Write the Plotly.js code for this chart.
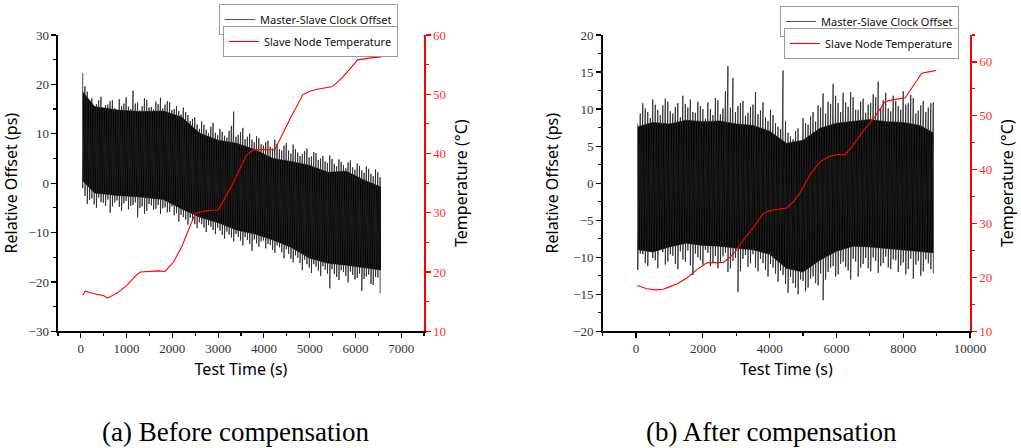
<!DOCTYPE html>
<html>
<head>
<meta charset="utf-8">
<script src="https://cdn.plot.ly/plotly-3.0.1.min.js"></script>
<style>
html,body{margin:0;padding:0;background:#fff;}
#chart{width:1021px;height:448px;}
</style>
</head>
<body>
<div id="chart"></div>
<script>
// ---------- (a) Before compensation ----------
// extreme samples of the offset noise
const aSpikeT = [40,140,240,340,440,540,640,740,840,940,1040,1140,1240,1340,1440,1540,1640,1740,1840,1940,2040,2140,2240,2340,2440,2540,2640,2740,2840,2940,3040,3140,3240,3340,3440,3540,3640,3740,3840,3940,4040,4140,4240,4340,4440,4540,4640,4740,4840,4940,5040,5140,5240,5340,5440,5540,5640,5740,5840,5940,6040,6140,6240,6340,6440,6540];
const aSpikeHi = [22.3,18.5,17.2,16.0,17.5,15.8,16.6,15.2,17.0,16.1,15.5,18.7,16.3,15.6,16.9,15.4,16.5,17.3,15.9,16.4,15.0,14.6,15.3,13.8,13.0,11.9,12.5,10.8,11.4,10.2,11.0,9.6,10.6,14.5,9.8,11.2,9.4,8.8,9.5,7.9,8.3,7.4,8.8,6.9,7.6,6.6,7.8,6.2,5.9,7.0,5.4,6.1,5.0,4.4,5.6,3.9,4.8,3.6,4.2,3.2,4.0,2.6,3.4,1.9,2.8,1.2];
const aSpikeLo = [-1.0,-4.2,-3.1,-5.0,-3.8,-4.6,-6.0,-3.9,-4.8,-4.1,-5.3,-4.4,-6.9,-4.7,-5.6,-4.5,-5.2,-6.2,-4.9,-5.8,-6.5,-7.8,-6.9,-8.4,-7.6,-9.1,-8.3,-9.9,-8.8,-10.3,-9.6,-11.2,-10.4,-11.8,-10.9,-12.6,-11.5,-13.7,-12.2,-11.8,-13.2,-12.5,-14.1,-13.0,-15.2,-14.3,-16.0,-15.1,-17.6,-16.4,-18.2,-16.9,-18.8,-17.5,-21.3,-18.4,-19.6,-18.0,-20.1,-18.6,-19.2,-21.8,-18.9,-20.4,-19.0,-22.3];
const aSpikeT2 = [90,190,290,390,490,590,690,790,890,990,1090,1190,1290,1390,1490,1590,1690,1790,1890,1990,2090,2190,2290,2390,2490,2590,2690,2790,2890,2990,3090,3190,3290,3390,3490,3590,3690,3790,3890,3990,4090,4190,4290,4390,4490,4590,4690,4790,4890,4990,5090,5190,5290,5390,5490,5590,5690,5790,5890,5990,6090,6190,6290,6390,6490];
const aSpikeHi2 = [19.6,16.2,15.1,16.8,14.9,15.9,16.8,14.8,15.6,17.4,15.0,16.1,14.7,17.2,15.3,14.9,16.0,15.1,16.6,14.8,15.6,13.9,14.4,12.6,13.3,11.0,11.8,10.1,12.2,9.7,10.4,9.2,11.6,9.4,10.3,8.9,10.0,8.3,9.1,7.6,8.6,7.0,7.9,6.6,8.1,6.0,6.9,5.5,6.5,5.2,6.3,4.7,5.5,4.1,4.9,3.4,4.3,3.0,4.6,2.7,3.5,2.1,2.9,1.4,2.2];
const aSpikeLo2 = [-2.6,-3.4,-4.3,-2.9,-4.0,-3.3,-4.7,-3.5,-5.6,-3.6,-4.6,-3.9,-5.0,-6.2,-4.2,-5.4,-4.4,-5.1,-5.9,-4.7,-6.1,-6.4,-7.4,-7.0,-8.3,-7.9,-9.0,-8.5,-9.5,-9.0,-10.5,-9.8,-11.0,-10.3,-11.6,-10.9,-12.3,-11.4,-12.9,-11.6,-12.3,-13.5,-12.6,-14.0,-13.4,-15.3,-14.6,-16.2,-15.5,-17.1,-16.4,-17.7,-16.8,-18.3,-17.4,-19.0,-17.6,-18.8,-17.9,-19.5,-18.3,-19.4,-18.5,-20.6,-19.1];
// dense core of the noise band
const aCoreT  = [40,300,800,1300,1800,2200,2600,3000,3400,3800,4200,4600,5000,5400,5800,6200,6560];
const aCoreHi = [18.5,15.5,14.8,14.5,14.6,13.4,10.1,8.7,8.1,6.8,5.0,4.4,3.6,2.2,2.4,0.6,-0.8];
const aCoreLo = [0.5,-2.0,-2.5,-2.8,-3.3,-5.2,-6.9,-8.0,-9.5,-10.3,-11.5,-13.0,-15.2,-16.2,-16.6,-17.2,-17.6];
// temperature
const aTempT = [40,100,200,350,500,580,800,1010,1200,1300,1500,1700,1840,2025,2200,2400,2500,2700,3000,3100,3300,3500,3620,3760,4000,4236,4400,4600,4853,5000,5143,5400,5500,5724,6050,6300,6560];
const aTemp  = [16.1,16.8,16.5,16.3,16.0,15.6,16.5,17.8,19.4,20.0,20.1,20.2,20.1,21.7,24.2,27.8,29.9,30.3,30.5,31.8,34.6,37.8,39.7,40.6,40.7,40.6,43.2,46.3,49.9,50.5,50.8,51.1,51.3,52.9,55.8,56.1,56.3];

// ---------- (b) After compensation ----------
const bSpikeT = [50,200,350,500,650,800,950,1100,1250,1400,1550,1700,1850,2000,2150,2300,2450,2600,2750,2900,3050,3200,3350,3500,3650,3800,3950,4100,4250,4400,4550,4700,4850,5000,5150,5300,5450,5600,5750,5900,6050,6200,6350,6500,6650,6800,6950,7100,7250,7400,7550,7700,7850,8000,8150,8300,8450,8600,8750,8900];
const bSpikeHi = [8.0,10.8,9.6,11.3,9.9,10.5,11.0,9.4,10.8,11.8,10.2,9.6,11.0,10.0,10.9,9.2,11.2,10.1,15.8,14.2,10.4,11.1,9.5,10.6,9.3,10.9,8.4,9.2,7.6,15.2,6.8,5.9,7.4,8.8,7.9,9.6,10.5,12.1,11.0,13.4,10.8,12.2,10.3,11.6,9.9,11.4,10.6,12.0,13.7,11.2,10.1,11.8,10.4,12.4,10.8,11.5,9.8,11.1,10.2,10.9];
const bSpikeLo = [-11.7,-9.6,-11.2,-10.1,-11.5,-9.3,-10.6,-9.8,-11.6,-10.3,-9.1,-12.4,-10.0,-11.0,-9.4,-10.7,-11.5,-9.9,-12.0,-10.5,-14.7,-10.2,-11.3,-9.6,-11.9,-10.8,-12.6,-11.4,-13.3,-12.4,-14.8,-13.5,-15.0,-13.2,-14.1,-12.6,-13.8,-15.8,-12.0,-11.2,-12.3,-10.6,-11.8,-10.2,-12.6,-10.9,-11.5,-10.0,-12.1,-10.8,-11.4,-10.3,-12.0,-10.7,-11.6,-12.9,-10.5,-11.9,-10.8,-12.2];
const bSpikeT2 = [125,275,425,575,725,875,1025,1175,1325,1475,1625,1775,1925,2075,2225,2375,2525,2675,2825,2975,3125,3275,3425,3575,3725,3875,4025,4175,4325,4475,4625,4775,4925,5075,5225,5375,5525,5675,5825,5975,6125,6275,6425,6575,6725,6875,7025,7175,7325,7475,7625,7775,7925,8075,8225,8375,8525,8675,8825];
const bSpikeHi2 = [9.4,10.1,8.8,10.6,9.2,11.4,9.7,10.3,8.9,10.7,11.3,9.5,10.4,8.7,10.0,11.5,9.3,12.4,10.2,9.6,10.8,9.1,10.3,12.3,9.8,8.9,9.9,8.1,7.3,8.4,6.3,7.0,5.6,8.1,9.0,8.3,10.2,9.4,10.7,11.8,9.6,10.9,12.3,9.9,11.0,9.5,10.8,11.6,10.1,12.2,9.7,11.1,9.9,10.6,11.9,9.4,10.5,9.6,10.8];
const bSpikeLo2 = [-9.5,-10.8,-9.0,-10.4,-8.9,-11.0,-9.6,-10.9,-9.2,-10.6,-11.1,-9.5,-10.4,-9.0,-11.2,-9.8,-10.6,-9.4,-11.5,-10.1,-11.9,-9.7,-10.8,-11.4,-10.2,-11.7,-10.9,-12.2,-11.8,-13.6,-12.7,-14.1,-13.0,-14.6,-12.9,-13.5,-12.2,-13.0,-11.4,-12.6,-10.9,-11.3,-13.0,-10.6,-11.4,-10.1,-11.9,-10.5,-11.2,-9.9,-11.6,-10.4,-11.1,-12.3,-10.2,-11.0,-12.5,-10.3,-11.6];
const bCoreT  = [50,500,1000,1500,2000,2500,3000,3500,4000,4500,5000,5500,6000,6500,7000,7500,8000,8500,8900];
const bCoreHi = [7.6,8.2,8.0,8.5,8.3,8.4,8.0,7.8,7.0,5.4,5.8,7.4,8.1,8.4,8.6,8.3,8.2,7.8,6.8];
const bCoreLo = [-9.0,-9.3,-8.6,-8.1,-8.4,-8.5,-8.8,-9.0,-9.6,-11.5,-12.0,-10.4,-9.2,-8.5,-8.6,-8.8,-9.0,-9.2,-9.4];
const bTempT = [40,150,320,600,810,1018,1220,1500,1816,2116,2300,2615,2800,3000,3214,3500,3812,4000,4200,4510,4700,4910,5210,5500,5760,6000,6260,6450,6757,7000,7156,7455,7700,8054,8200,8400,8553,8800,8980];
const bTemp  = [18.5,18.3,17.9,17.7,17.8,18.3,18.8,19.8,21.4,22.7,22.7,22.8,23.7,25.0,27.0,29.2,31.9,32.4,32.6,32.9,34.0,35.7,39.1,41.4,42.4,42.8,42.8,44.2,46.8,48.7,49.9,52.6,53.0,53.3,54.6,56.4,57.9,58.2,58.4];

const aTicks = ['0','1000','2000','3000','4000','5000','6000','7000'];
const bTicks = ['0','2000','4000','6000','8000','10000'];

// zigzag through the read extremes, both sample sets merged in time order
function zigzag(t1, lo1, hi1, t2, lo2, hi2){
  const pts = [];
  t1.forEach((t, i) => pts.push([t, hi1[i], lo1[i]]));
  t2.forEach((t, i) => pts.push([t, hi2[i], lo2[i]]));
  pts.sort((a, b) => a[0] - b[0]);
  const x = [], y = [];
  pts.forEach(p => { x.push(p[0], p[0]); y.push(p[1], p[2]); });
  return {x, y};
}

const sa = zigzag(aSpikeT, aSpikeLo, aSpikeHi, aSpikeT2, aSpikeLo2, aSpikeHi2);
const sb = zigzag(bSpikeT, bSpikeLo, bSpikeHi, bSpikeT2, bSpikeLo2, bSpikeHi2);

const OFF = 'Master-Slave Clock Offset';
const TMP = 'Slave Node Temperature';

const traces = [
  {x: aCoreT, y: aCoreLo, xaxis:'x', yaxis:'y', mode:'lines', line:{color:'#000', width:0.5}, showlegend:false, hoverinfo:'skip'},
  {x: aCoreT, y: aCoreHi, xaxis:'x', yaxis:'y', mode:'lines', line:{color:'#000', width:0.5}, fill:'tonexty', fillcolor:'#000', showlegend:false, hoverinfo:'skip'},
  {x: sa.x, y: sa.y, xaxis:'x', yaxis:'y', mode:'lines', name: OFF, legend:'legend',
   line:{color:'#222', width:0.8}, hoverinfo:'skip'},
  {x: aTempT, y: aTemp, xaxis:'x', yaxis:'y2', mode:'lines', name: TMP, legend:'legend2',
   line:{color:'#ff0000', width:1.1}},

  {x: bCoreT, y: bCoreLo, xaxis:'x2', yaxis:'y3', mode:'lines', line:{color:'#000', width:0.5}, showlegend:false, hoverinfo:'skip'},
  {x: bCoreT, y: bCoreHi, xaxis:'x2', yaxis:'y3', mode:'lines', line:{color:'#000', width:0.5}, fill:'tonexty', fillcolor:'#000', showlegend:false, hoverinfo:'skip'},
  {x: sb.x, y: sb.y, xaxis:'x2', yaxis:'y3', mode:'lines', name: OFF, legend:'legend3',
   line:{color:'#222', width:0.8}, hoverinfo:'skip'},
  {x: bTempT, y: bTemp, xaxis:'x2', yaxis:'y4', mode:'lines', name: TMP, legend:'legend4',
   line:{color:'#ff0000', width:1.1}}
];

const tickFont = {family:'"Liberation Serif", "Times New Roman", serif', size:13, color:'#333'};
const redTickFont = {family:'"Liberation Serif", "Times New Roman", serif', size:13, color:'#ff3030'};
const titleFont = {family:'"Noto Sans", "Open Sans", sans-serif', size:16, color:'#000'};
const legFont = {family:'"Noto Sans", "Open Sans", sans-serif', size:11, color:'#111'};

function xAx(domain, range, dtick, ticktext, anchor){
  return {domain, range, tickmode:'array', tickvals: ticktext.map(Number), ticktext, anchor,
    showgrid:false, zeroline:false,
    showline:true, linecolor:'#000', linewidth:1.5, ticks:'outside', ticklen:5, tickwidth:1.2, tickcolor:'#000',
    minor:{dtick: dtick/2, tick0:0, ticks:'outside', ticklen:3, tickcolor:'#000'},
    tickfont: tickFont, title:{text:'Test Time (s)', font:titleFont, standoff:8}};
}
function yLeft(domain, range, dtick, anchor){
  return {domain, range, dtick, anchor, showgrid:false, zeroline:false,
    showline:true, linecolor:'#000', linewidth:1.5, ticks:'outside', ticklen:5, tickwidth:1.2, tickcolor:'#000',
    minor:{dtick: dtick/2, ticks:'outside', ticklen:3, tickcolor:'#000'},
    tickfont: tickFont, title:{text:'Relative Offset (ps)', font:titleFont, standoff:10}};
}
function yRight(range, overlay, anchor){
  return {range, overlaying: overlay, anchor, side:'right', tick0:10, dtick:10, showgrid:false, zeroline:false,
    showline:true, linecolor:'#ff0000', linewidth:1.5, ticks:'outside', ticklen:5, tickwidth:1.2, tickcolor:'#ff0000',
    minor:{dtick:5, ticks:'outside', ticklen:3, tickcolor:'#ff0000'},
    tickfont: redTickFont, title:{text:'Temperature (°C)', font:titleFont, standoff:10}};
}

const yDom = [0.2604, 0.9219];
const legBase = {xanchor:'right', yanchor:'top', bgcolor:'#fff', bordercolor:'#999', borderwidth:1,
  font: legFont, itemwidth:30, tracegroupgap:0};

const layout = {
  width:1021, height:448,
  margin:{l:0, r:0, t:0, b:0},
  paper_bgcolor:'#fff', plot_bgcolor:'#fff',
  showlegend:true,
  xaxis: xAx([0.0568, 0.4153], [-500, 7500], 1000, aTicks, 'y'),
  yaxis: yLeft(yDom, [-30, 30], 10, 'x'),
  yaxis2: yRight([10, 60], 'y', 'x'),
  xaxis2: xAx([0.5903, 0.9501], [-1000, 10000], 2000, bTicks, 'y3'),
  yaxis3: yLeft(yDom, [-20, 20], 5, 'x2'),
  yaxis4: yRight([10, 65], 'y3', 'x2'),
  legend: Object.assign({x:0.3898, y:0.9911}, legBase),
  legend2: Object.assign({x:0.3898, y:0.9420}, legBase),
  legend3: Object.assign({x:0.9393, y:0.9866}, legBase),
  legend4: Object.assign({x:0.9393, y:0.9375}, legBase),
  annotations: [
    {text:'(a) Before compensation', xref:'paper', yref:'paper', x:0.231, y:0.035, xanchor:'center', yanchor:'middle',
     showarrow:false, font:{family:'"Liberation Serif", "Times New Roman", serif', size:27, color:'#000'}},
    {text:'(b) After compensation', xref:'paper', yref:'paper', x:0.756, y:0.035, xanchor:'center', yanchor:'middle',
     showarrow:false, font:{family:'"Liberation Serif", "Times New Roman", serif', size:27, color:'#000'}}
  ]
};

Plotly.newPlot('chart', traces, layout, {displayModeBar:false, staticPlot:true});
</script>
</body>
</html>
